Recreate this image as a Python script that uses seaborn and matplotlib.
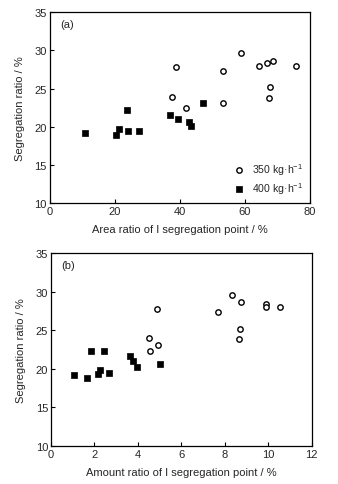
import matplotlib
matplotlib.use("Agg")
import matplotlib.pyplot as plt
import seaborn as sns
import pandas as pd

# Panel (a): area ratio
area_350 = [38.8, 37.7, 53.3, 41.8, 58.9, 68.7, 53.3, 66.9, 64.2, 75.8, 67.7, 67.5]
seg_a_350 = [27.8, 23.9, 23.05, 22.4, 29.6, 28.6, 27.3, 28.4, 28.0, 28.0, 25.2, 23.8]
area_400 = [23.8, 37.0, 39.4, 21.4, 10.9, 20.4, 24.0, 27.5, 47.2, 42.9, 43.5]
seg_a_400 = [22.2, 21.6, 21.0, 19.7, 19.15, 18.9, 19.4, 19.5, 23.1, 20.56, 20.13]

# Panel (b): amount ratio
amount_350 = [4.88, 4.52, 4.92, 4.55, 8.33, 8.75, 7.67, 9.9, 9.9, 10.55, 8.70, 8.66]
seg_b_350 = [27.8, 23.95, 23.05, 22.35, 29.6, 28.7, 27.3, 28.45, 28.0, 28.05, 25.2, 23.8]
amount_400 = [1.83, 2.43, 3.65, 3.77, 3.98, 5.04, 1.04, 1.68, 2.15, 2.26, 2.69]
seg_b_400 = [22.3, 22.3, 21.6, 21.07, 20.17, 20.56, 19.17, 18.87, 19.39, 19.78, 19.52]

labels = ["350 kg\u00b7h$^{-1}$", "400 kg\u00b7h$^{-1}$"]
panel_tags = ["(a)", "(b)"]
xlabels = ["Area ratio of I segregation point / %", "Amount ratio of I segregation point / %"]
ylabel = "Segregation ratio / %"

sns.set_style("ticks")
plt.rcParams['font.family'] = ['Liberation Sans', 'DejaVu Sans']
plt.rcParams['mathtext.fontset'] = 'custom'
plt.rcParams['mathtext.rm'] = 'Liberation Sans'

fig = plt.figure(figsize=(3.38, 4.85), dpi=100)
W, H = 338, 485
def ax_at(l, t, r, b):
    return fig.add_axes([l / W, 1 - b / H, (r - l) / W, (b - t) / H])

ax1 = ax_at(49.5, 13.3, 310, 204)
ax2 = ax_at(51, 254, 311.5, 447)

def panel(ax, x350, y350, x400, y400, xlim, xticks, tag, xlabel, legend):
    sns.scatterplot(x=x350, y=y350, ax=ax, marker='o', s=15, facecolor='white',
                    edgecolor='black', linewidth=1.0, label=labels[0], legend=legend)
    sns.scatterplot(x=x400, y=y400, ax=ax, marker='s', s=22, color='black',
                    edgecolor='black', linewidth=0.5, label=labels[1], legend=legend)
    ax.set_xlim(*xlim)
    ax.set_ylim(10, 35)
    ax.set_xticks(xticks)
    ax.set_yticks([10, 15, 20, 25, 30, 35])
    ax.tick_params(direction='in', length=3, width=0.8, labelsize=8, pad=2, color='black')
    for s in ax.spines.values():
        s.set_linewidth(0.9)
        s.set_color('black')
    ax.set_xlabel(xlabel, fontsize=8, labelpad=6)
    ax.set_ylabel(ylabel, fontsize=8, labelpad=7)
    ax.text(0.04, 0.965, tag, transform=ax.transAxes, fontsize=8, va='top', ha='left')
    if legend:
        ax.legend(loc='lower right', frameon=False, fontsize=7.6, handletextpad=0.8,
                  borderaxespad=0.4, labelspacing=0.3, handlelength=0.8,
                  borderpad=0.3)
    else:
        lg = ax.get_legend()
        if lg:
            lg.remove()

panel(ax1, area_350, seg_a_350, area_400, seg_a_400, (0, 80), [0, 20, 40, 60, 80],
      panel_tags[0], xlabels[0], True)
panel(ax2, amount_350, seg_b_350, amount_400, seg_b_400, (0, 12), [0, 2, 4, 6, 8, 10, 12],
      panel_tags[1], xlabels[1], False)

fig.savefig("out.png", dpi=100)
